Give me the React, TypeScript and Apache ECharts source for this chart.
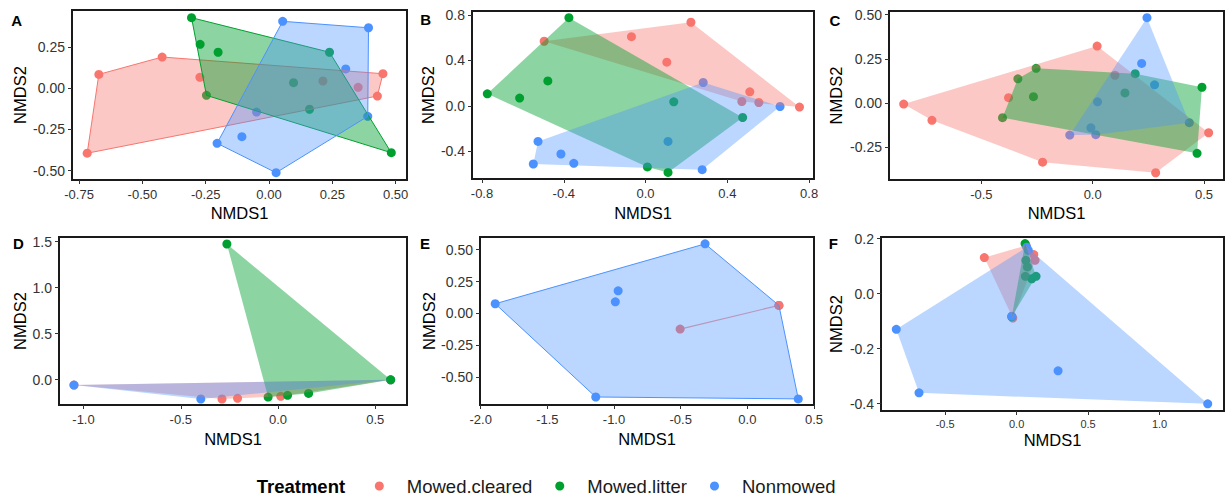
import React, { useEffect, useRef } from 'react';
import * as echarts from 'echarts';

type Pt = [number, number];

const FONT = "'Liberation Sans', Arial, Helvetica, sans-serif";
const GROUPS = ['Mowed.cleared', 'Mowed.litter', 'Nonmowed'];
const COLORS = ['#F8766D', '#00A030', '#4C92FF'];
const FILLS = ['rgba(248,118,109,0.40)', 'rgba(0,160,48,0.45)', 'rgba(76,146,255,0.38)'];

// Panel A
const aCleared: Pt[] = [[-0.718, -0.394], [-0.672, 0.083], [-0.422, 0.188], [-0.273, 0.065], [0.213, 0.043], [0.352, 0.005], [0.45, 0.087], [0.428, -0.048]];
const aLitter: Pt[] = [[-0.306, 0.426], [-0.272, 0.265], [-0.201, 0.217], [-0.247, -0.044], [0.239, 0.217], [0.097, 0.033], [0.16, -0.128], [0.483, -0.391]];
const aNonmowed: Pt[] = [[0.054, 0.404], [0.393, 0.365], [0.303, 0.116], [0.39, -0.171], [0.028, -0.512], [-0.205, -0.334], [-0.107, -0.294], [-0.049, -0.145]];
const aXTicks = [-0.75, -0.5, -0.25, 0, 0.25, 0.5];
const aYTicks = [-0.5, -0.25, 0, 0.25];

// Panel B
const bCleared: Pt[] = [[-0.496, 0.568], [-0.069, 0.608], [0.222, 0.735], [0.104, 0.384], [0.51, 0.123], [0.753, -0.011], [0.471, 0.038], [0.554, 0.029]];
const bLitter: Pt[] = [[-0.375, 0.775], [-0.774, 0.105], [-0.616, 0.068], [-0.478, 0.219], [0.138, 0.035], [0.475, -0.103], [0.009, -0.538], [0.11, -0.586]];
const bNonmowed: Pt[] = [[0.282, 0.205], [0.658, -0.006], [0.277, -0.562], [0.11, -0.313], [-0.526, -0.313], [-0.414, -0.424], [-0.549, -0.512], [-0.351, -0.506]];
const bXTicks = [-0.8, -0.4, 0, 0.4, 0.8];
const bYTicks = [-0.4, 0, 0.4, 0.8];

// Panel C
const cCleared: Pt[] = [[-0.849, -0.006], [-0.722, -0.098], [-0.378, 0.03], [0.02, 0.322], [-0.225, -0.334], [0.283, -0.394], [0.521, -0.168], [0.1, 0.157]];
const cLitter: Pt[] = [[-0.254, 0.196], [-0.336, 0.137], [-0.266, 0.036], [-0.405, -0.083], [0.191, 0.166], [0.145, 0.057], [0.491, 0.089], [0.469, -0.284]];
const cNonmowed: Pt[] = [[0.244, 0.482], [0.22, 0.224], [0.278, 0.103], [0.022, 0.007], [-0.008, -0.14], [0.434, -0.111], [-0.103, -0.181], [0.014, -0.179]];
const cXTicks = [-0.5, 0, 0.5];
const cYTicks = [-0.25, 0, 0.25, 0.5];

// Panel D
const dCleared: Pt[] = [[-1.049, -0.059], [-0.288, -0.21], [-0.208, -0.203], [0.014, -0.181], [0.579, -0.001]];
const dLitter: Pt[] = [[-0.263, 1.474], [0.579, -0.001], [-0.051, -0.189], [0.049, -0.17], [0.157, -0.149]];
const dNonmowed: Pt[] = [[-1.049, -0.059], [-0.397, -0.21], [0.579, -0.001]];
const dXTicks = [-1.0, -0.5, 0, 0.5];
const dYTicks = [0, 0.5, 1.0, 1.5];

// Panel E
const eCleared: Pt[] = [[0.237, 0.062], [-0.504, -0.124]];
const eLitter: Pt[] = [];
const eNonmowed: Pt[] = [[-0.317, 0.546], [-1.891, 0.075], [-0.969, 0.177], [-0.99, 0.09], [-1.137, -0.658], [0.382, -0.673], [0.237, 0.062]];
const eXTicks = [-2.0, -1.5, -1.0, -0.5, 0, 0.5];
const eYTicks = [-0.5, -0.25, 0, 0.25, 0.5];

// Panel F
const fCleared: Pt[] = [[-0.226, 0.131], [0.066, 0.175], [0.12, 0.142], [0.129, 0.121], [-0.027, -0.089]];
const fLitter: Pt[] = [[0.059, 0.182], [0.064, 0.121], [0.075, 0.097], [0.061, 0.063], [0.106, 0.054], [0.136, 0.063], [-0.034, -0.084]];
const fNonmowed: Pt[] = [[-0.842, -0.13], [-0.683, -0.361], [0.29, -0.281], [1.337, -0.401], [-0.034, -0.082], [0.071, 0.169], [0.082, 0.157]];
const fXTicks = [-0.5, 0, 0.5, 1.0];
const fYTicks = [-0.4, -0.2, 0, 0.2];

function convexHull(pts: Pt[]): Pt[] {
  const p = [...pts].sort((a, b) => a[0] - b[0] || a[1] - b[1]);
  if (p.length < 3) return p;
  const cross = (o: Pt, a: Pt, b: Pt) => (a[0] - o[0]) * (b[1] - o[1]) - (a[1] - o[1]) * (b[0] - o[0]);
  const lower: Pt[] = [];
  for (const q of p) {
    while (lower.length >= 2 && cross(lower[lower.length - 2], lower[lower.length - 1], q) <= 0) lower.pop();
    lower.push(q);
  }
  const upper: Pt[] = [];
  for (let i = p.length - 1; i >= 0; i--) {
    const q = p[i];
    while (upper.length >= 2 && cross(upper[upper.length - 2], upper[upper.length - 1], q) <= 0) upper.pop();
    upper.push(q);
  }
  upper.pop();
  lower.pop();
  return lower.concat(upper);
}

const panels = [
  { letter: 'A', data: [aCleared, aLitter, aNonmowed], grid: { left: 72, top: 10, width: 335, height: 170 }, x: [-0.778, 0.545], y: [-0.556, 0.4725], xTicks: aXTicks, yTicks: aYTicks, xDec: 2, yDec: 2, outline: true, order: [0, 1, 2], letterPos: [16.7, 20], yNameGap: 44, xNameGap: 24, xFont: 13 },
  { letter: 'B', data: [bCleared, bLitter, bNonmowed], grid: { left: 472, top: 11, width: 342, height: 168 }, x: [-0.849, 0.824], y: [-0.644, 0.834], xTicks: bXTicks, yTicks: bYTicks, xDec: 1, yDec: 1, outline: false, order: [0, 1, 2], letterPos: [425.7, 19.3], yNameGap: 34, xNameGap: 25, xFont: 13 },
  { letter: 'C', data: [cCleared, cLitter, cNonmowed], grid: { left: 889, top: 11, width: 335, height: 169 }, x: [-0.915, 0.59], y: [-0.435, 0.52], xTicks: cXTicks, yTicks: cYTicks, xDec: 1, yDec: 2, outline: false, order: [0, 1, 2], letterPos: [835, 20.7], yNameGap: 45, xNameGap: 24, xFont: 13 },
  { letter: 'D', data: [dCleared, dLitter, dNonmowed], grid: { left: 59, top: 237, width: 348, height: 168 }, x: [-1.126, 0.663], y: [-0.275, 1.55], xTicks: dXTicks, yTicks: dYTicks, xDec: 1, yDec: 1, outline: false, order: [0, 2, 1], letterPos: [18.3, 243.3], yNameGap: 31, xNameGap: 25, xFont: 13 },
  { letter: 'E', data: [eCleared, eLitter, eNonmowed], grid: { left: 480, top: 237, width: 334, height: 168 }, x: [-2.005, 0.5], y: [-0.721, 0.6], xTicks: eXTicks, yTicks: eYTicks, xDec: 1, yDec: 2, outline: true, order: [2, 1, 0], letterPos: [425, 243.3], yNameGap: 42, xNameGap: 25, xFont: 13 },
  { letter: 'F', data: [fCleared, fLitter, fNonmowed], grid: { left: 881, top: 237, width: 343, height: 174 }, x: [-0.949, 1.451], y: [-0.427, 0.206], xTicks: fXTicks, yTicks: fYTicks, xDec: 1, yDec: 1, outline: false, order: [0, 1, 2], letterPos: [833.3, 243.3], yNameGap: 37, xNameGap: 20, xFont: 11 },
];

function buildOption() {
  const grid: any[] = [];
  const xAxis: any[] = [];
  const yAxis: any[] = [];
  const series: any[] = [];
  const graphic: any[] = [];

  panels.forEach((p, i) => {
    grid.push({ ...p.grid, show: true, borderColor: '#1a1a1a', borderWidth: 2, backgroundColor: 'transparent' });
    xAxis.push({
      type: 'value', gridIndex: i, min: p.x[0], max: p.x[1],
      name: 'NMDS1', nameLocation: 'middle', nameGap: p.xNameGap,
      nameTextStyle: { fontSize: 16.5, color: '#000', fontFamily: FONT },
      axisLine: { show: false, onZero: false }, splitLine: { show: false },
      axisTick: { show: true, customValues: p.xTicks, length: 4, lineStyle: { color: '#333', width: 1 } },
      axisLabel: { customValues: p.xTicks, formatter: (v: number) => Number(v).toFixed(p.xDec), fontSize: p.xFont, color: '#333', margin: 7.5, fontFamily: FONT },
    });
    yAxis.push({
      type: 'value', gridIndex: i, min: p.y[0], max: p.y[1],
      name: 'NMDS2', nameLocation: 'middle', nameGap: p.yNameGap, nameRotate: 90,
      nameTextStyle: { fontSize: 16.5, color: '#000', fontFamily: FONT },
      axisLine: { show: false, onZero: false }, splitLine: { show: false },
      axisTick: { show: true, customValues: p.yTicks, length: 4, lineStyle: { color: '#333', width: 1 } },
      axisLabel: { customValues: p.yTicks, formatter: (v: number) => Number(v).toFixed(p.yDec), fontSize: 14, color: '#333', margin: 7, fontFamily: FONT },
    });
    p.order.forEach((g) => {
      series.push({
        type: 'scatter', name: GROUPS[g], xAxisIndex: i, yAxisIndex: i,
        data: p.data[g], symbol: 'circle', symbolSize: 9, z: 2,
        itemStyle: { color: COLORS[g], opacity: 1 },
        emphasis: { disabled: true },
      });
    });
    [0, 1, 2].forEach((g) => {
      const pts = p.data[g];
      if (!pts.length) return;
      const h = convexHull(pts);
      series.push({
        type: 'custom', name: GROUPS[g] + ' hull', xAxisIndex: i, yAxisIndex: i,
        coordinateSystem: 'cartesian2d', z: 3, silent: true,
        data: h,
        renderItem: (params: any, api: any) => {
          if (params.dataIndex !== 0) return null;
          const c = h.map((q) => api.coord(q));
          if (h.length < 3) {
            return { type: 'polyline', shape: { points: c }, style: { stroke: COLORS[g], lineWidth: 1.2, opacity: 0.75, fill: 'none' } };
          }
          return {
            type: 'polygon', shape: { points: c },
            style: { fill: FILLS[g], stroke: p.outline ? COLORS[g] : 'none', lineWidth: 1 },
          };
        },
      });
    });
    graphic.push({
      type: 'text', x: p.letterPos[0], y: p.letterPos[1],
      style: { text: p.letter, fontSize: 15, fontWeight: 'bold', fontFamily: FONT, fill: '#000', align: 'center', verticalAlign: 'middle' },
    });
  });

  graphic.push({
    type: 'text', x: 256.7, y: 486,
    style: { text: 'Treatment', fontSize: 18.5, fontWeight: 'bold', fontFamily: FONT, fill: '#000', align: 'left', verticalAlign: 'middle' },
  });

  return {
    animation: false,
    backgroundColor: '#ffffff',
    grid, xAxis, yAxis, series, graphic,
    legend: {
      data: GROUPS.map((name) => ({ name, icon: 'circle' })),
      left: 374.8, top: 476, padding: 0, itemWidth: 9, itemHeight: 9, itemGap: 23,
      selectedMode: false,
      textStyle: { fontSize: 18.5, color: '#1a1a1a', fontFamily: FONT, padding: [0, 0, 0, 18], lineHeight: 20 },
    },
  };
}

export default function App() {
  const ref = useRef<HTMLDivElement>(null);
  useEffect(() => {
    if (!ref.current) return;
    const chart = echarts.init(ref.current, undefined, { renderer: 'svg' });
    chart.setOption(buildOption() as any);
    return () => chart.dispose();
  }, []);
  return <div ref={ref} style={{ position: 'absolute', left: 0, top: 0, width: 1230, height: 496 }} />;
}
